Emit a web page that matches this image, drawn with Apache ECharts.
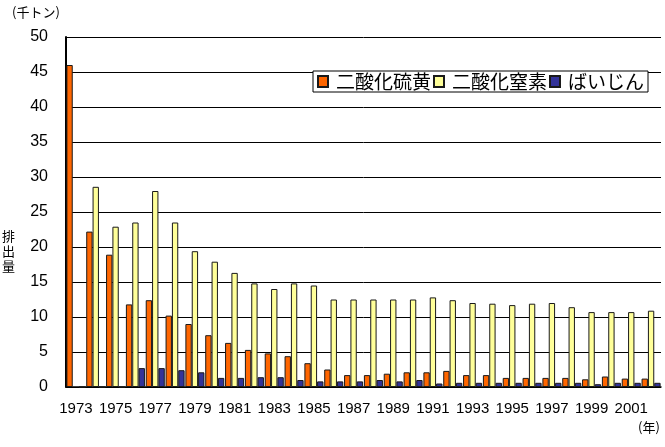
<!DOCTYPE html>
<html>
<head>
<meta charset="utf-8">
<script src="https://cdn.jsdelivr.net/npm/echarts@6/dist/echarts.min.js"></script>
<style>
html,body{margin:0;padding:0;background:#fff;}
#c{width:665px;height:447px;}
</style>
</head>
<body>
<div id="c"></div>
<script>
var years = ['1973','1974','1975','1976','1977','1978','1979','1980','1981','1982','1983','1984','1985','1986','1987','1988','1989','1990','1991','1992','1993','1994','1995','1996','1997','1998','1999','2000','2001','2002'];
var so2 = [46.0,22.2,18.9,11.8,12.4,10.2,9.0,7.4,6.3,5.3,4.8,4.4,3.4,2.5,1.7,1.7,1.9,2.1,2.1,2.3,1.7,1.7,1.3,1.3,1.3,1.3,1.1,1.5,1.2,1.2];
var nox = [null,28.6,22.9,23.5,28.0,23.5,19.4,17.9,16.3,14.8,14.0,14.8,14.5,12.5,12.5,12.5,12.5,12.5,12.8,12.4,12.0,11.9,11.7,11.9,12.0,11.4,10.7,10.7,10.7,10.9];
var dust = [0,0,0,2.7,2.7,2.4,2.1,1.3,1.3,1.4,1.4,1.0,0.8,0.8,0.8,1.0,0.8,1.0,0.5,0.6,0.6,0.6,0.6,0.6,0.6,0.6,0.4,0.6,0.6,0.6];
var seriesNames = ['二酸化硫黄','二酸化窒素','ばいじん'];
var yTicks = [0,5,10,15,20,25,30,35,40,45,50];

var FONT = '"Liberation Sans",Arial,sans-serif';
var CJK = '"Noto Sans CJK JP","Noto Sans CJK SC",sans-serif';
var chart = echarts.init(document.getElementById('c'), null, {renderer:'canvas'});
var barStyle = function(c){ return {color:c, borderColor:'#1a1a1a', borderWidth:1}; };
function label(t, x, y){
  return {type:'text', x:x, y:y, style:{text:t, fontSize:13, fontFamily:CJK, fill:'#000', textAlign:'left', textVerticalAlign:'top'}};
}
chart.setOption({
  animation:false,
  backgroundColor:'#fff',
  grid:{left:66, right:4, top:37, bottom:60, containLabel:false},
  graphic:[
    label('(千トン)', 12, 6),
    label('排', 2, 230),
    label('出', 2, 245),
    label('量', 2, 260),
    label('(年)', 638, 421)
  ],
  legend:{
    left:313, top:71, orient:'horizontal',
    data:seriesNames,
    backgroundColor:'#fff', borderColor:'#000', borderWidth:1,
    padding:[1,4,1,4], itemGap:2, itemWidth:10, itemHeight:11,
    icon:'rect',
    textStyle:{fontFamily:CJK, fontSize:19, color:'#000', padding:[0,0,0,3]},
    selectedMode:false
  },
  xAxis:{
    type:'category', data:years,
    axisLine:{lineStyle:{color:'#000', width:1.5}},
    axisTick:{show:false},
    axisLabel:{interval:1, color:'#000', fontFamily:FONT, fontSize:15, margin:14}
  },
  yAxis:{
    type:'value', min:0, max:50, interval:5,
    axisLine:{show:true, lineStyle:{color:'#000', width:2}},
    axisTick:{show:false},
    splitLine:{lineStyle:{color:'#000', width:1}},
    axisLabel:{color:'#000', fontFamily:FONT, fontSize:16, margin:18,
      formatter:function(v){ return yTicks.indexOf(v)>=0 ? String(v) : ''; }}
  },
  series:[
    {name:seriesNames[0], type:'bar', data:so2, barGap:'0%', barCategoryGap:'4%', itemStyle:barStyle('#FF6600')},
    {name:seriesNames[1], type:'bar', data:nox, barGap:'0%', barCategoryGap:'4%', itemStyle:barStyle('#FFFF99')},
    {name:seriesNames[2], type:'bar', data:dust, barGap:'0%', barCategoryGap:'4%', itemStyle:barStyle('#333399')}
  ]
});
</script>
</body>
</html>
